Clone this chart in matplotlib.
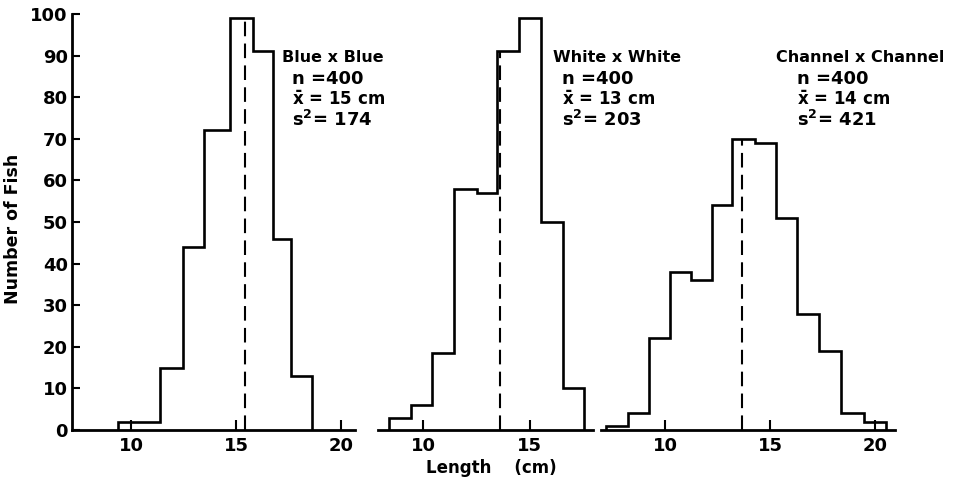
import matplotlib.pyplot as plt

# ---- data ----
groups = ["Blue x Blue", "White x White", "Channel x Channel"]
n_fish = [400, 400, 400]
mean_len = [15, 13, 14]
variance = [174, 203, 421]

blue_edges = [9.4, 10.4, 11.4, 12.5, 13.5, 14.7, 15.8, 16.75, 17.6, 18.6]
blue_counts = [2, 2, 15, 44, 72, 99, 91, 46, 13]

white_edges = [8.4, 9.4, 10.4, 11.45, 12.5, 13.45, 14.5, 15.55, 16.55, 17.55]
white_counts = [3, 6, 18.5, 58, 57, 91, 99, 50, 10]

channel_edges = [7.2, 8.25, 9.25, 10.25, 11.25, 12.25, 13.2, 14.3, 15.3,
                 16.3, 17.35, 18.4, 19.45, 20.5]
channel_counts = [1, 4, 22, 38, 36, 54, 70, 69, 51, 28, 19, 4, 2]

# position of the dashed mean line and its height
mean_line_x = [15.43, 13.6, 13.65]
mean_line_top = [99, 91, 70]

x_ticks = [[10, 15, 20], [10, 15], [10, 15, 20]]
y_ticks = list(range(0, 101, 10))

W, H = 968, 491


def fx(px):
    return px / W


def fy(py):
    return 1 - py / H


fig = plt.figure(figsize=(W / 100, H / 100), dpi=100, facecolor="white")

# axes boxes in pixels: left, right, x-limits
boxes = [
    (72, 355, (7.19, 20.67)),
    (378, 593, (7.87, 17.97)),
    (601, 895, (6.95, 20.95)),
]
y_top, y_bot = 14, 430

hist_data = [(blue_edges, blue_counts), (white_edges, white_counts),
             (channel_edges, channel_counts)]

# text anchor positions (pixels)
label_pos = [(282, 292), (553, 562), (776, 797)]

for i, (left, right, xlim) in enumerate(boxes):
    ax = fig.add_axes([fx(left), fy(y_bot), (right - left) / W, (y_bot - y_top) / H])
    edges, counts = hist_data[i]
    ax.stairs(counts, edges, baseline=0, color="black", linewidth=1.9)
    ax.plot([mean_line_x[i]] * 2, [0, mean_line_top[i]], color="black",
            linewidth=1.5, linestyle=(0, (7, 3.5)))
    ax.set_xlim(*xlim)
    ax.set_ylim(0, 100)
    ax.set_facecolor("none")

    for side in ["top", "right"]:
        ax.spines[side].set_visible(False)
    ax.spines["bottom"].set_linewidth(2)
    ax.set_xticks(x_ticks[i])
    ax.tick_params(axis="x", direction="in", length=7, width=1.5, pad=5,
                   labelsize=13)
    if i == 0:
        ax.spines["left"].set_linewidth(2)
        ax.set_yticks(y_ticks)
        ax.tick_params(axis="y", direction="in", length=6, width=1.5, pad=3,
                       labelsize=13)
    else:
        ax.spines["left"].set_visible(False)
        ax.set_yticks([])
    for lab in ax.get_xticklabels() + ax.get_yticklabels():
        lab.set_fontweight("bold")

    gx, lx = label_pos[i]
    fig.text(fx(gx), fy(57), groups[i], fontsize=11.5, fontweight="bold",
             va="center", ha="left")
    fig.text(fx(lx), fy(79), f"n ={n_fish[i]}", fontsize=13,
             fontweight="bold", va="center", ha="left")
    fig.text(fx(lx), fy(100), r"$\mathbf{\bar{x}}$ = " + f"{mean_len[i]} cm",
             fontsize=12, fontweight="bold", va="center", ha="left")
    fig.text(fx(lx), fy(120), r"s$^\mathbf{2}$= " + f"{variance[i]}",
             fontsize=13, fontweight="bold", va="center", ha="left")

fig.text(fx(13), fy(229), "Number of Fish", rotation=90, fontsize=12.5,
         fontweight="bold", ha="center", va="center")
fig.text(fx(491), fy(468), "Length    (cm)", fontsize=12, fontweight="bold",
         ha="center", va="center")

fig.savefig("out.png", dpi=100, facecolor="white")
